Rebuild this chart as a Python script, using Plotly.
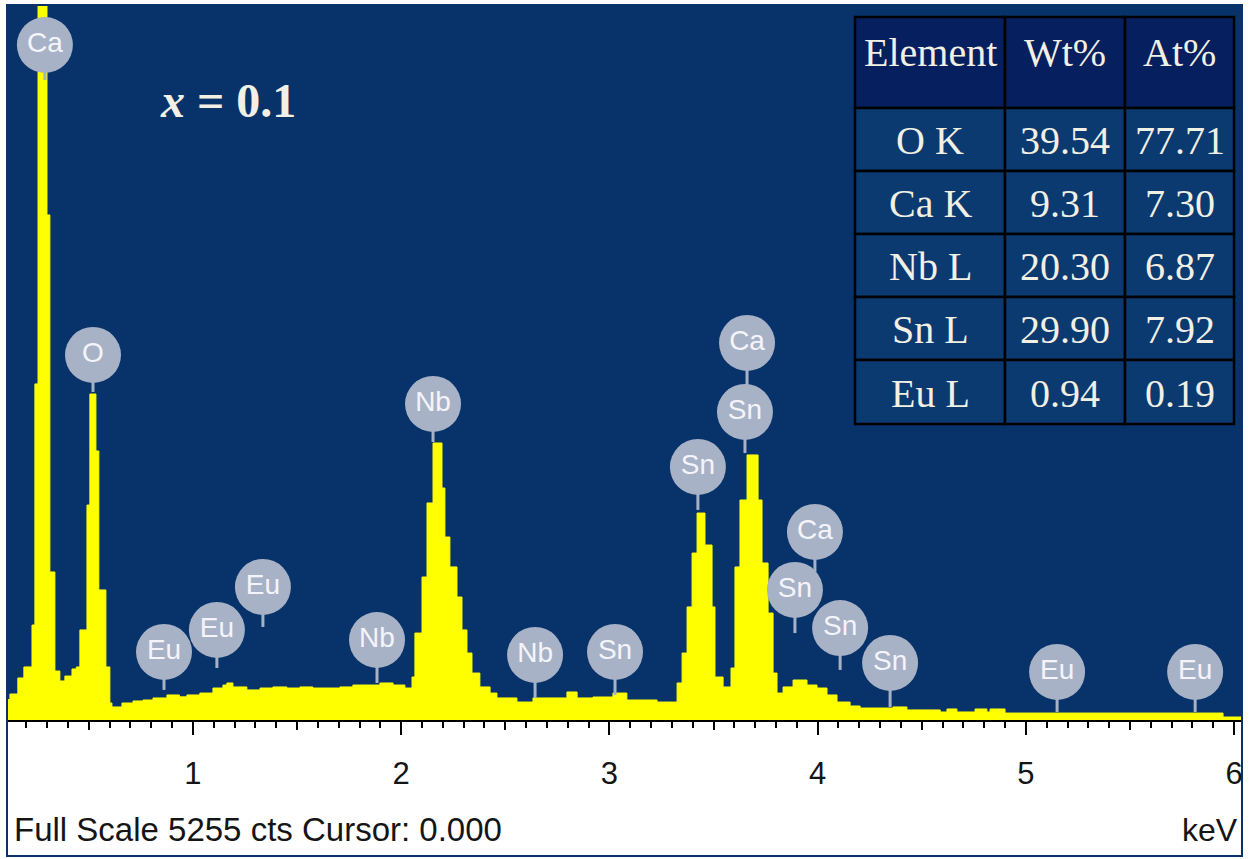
import plotly.graph_objects as go

# ---------------- data ----------------
# EDS spectrum (step histogram): energy (keV) at bin start, counts
energy_kev = [0.107, 0.121, 0.159, 0.188, 0.227, 0.241, 0.256, 0.299, 0.313, 0.337,
              0.361, 0.385, 0.419, 0.440, 0.457, 0.491, 0.505, 0.534, 0.548, 0.582,
              0.601, 0.611, 0.659, 0.712, 0.760, 0.808, 0.875, 0.935, 0.971, 1.033,
              1.096, 1.144, 1.163, 1.192, 1.259, 1.322, 1.384, 1.451, 1.514, 1.576,
              1.644, 1.706, 1.768, 1.836, 1.898, 1.961, 2.018, 2.052, 2.066, 2.100,
              2.124, 2.153, 2.196, 2.210, 2.234, 2.268, 2.292, 2.316, 2.340, 2.378,
              2.427, 2.460, 2.556, 2.633, 2.796, 2.845, 2.921, 3.017, 3.084, 3.229,
              3.325, 3.349, 3.373, 3.397, 3.421, 3.459, 3.493, 3.507, 3.546, 3.584,
              3.603, 3.627, 3.661, 3.714, 3.733, 3.762, 3.786, 3.805, 3.834, 3.882,
              3.949, 3.997, 4.045, 4.093, 4.156, 4.204, 4.362, 4.429, 4.589, 4.621,
              4.669, 4.756, 4.813, 4.828, 4.900, 5.947, 6.038]
counts = [150, 191, 309, 390, 698, 2470, 5600, 3712, 1088, 360,
          287, 323, 375, 390, 662, 1580, 2396, 1977, 956, 390,
          125, 96, 125, 140, 147, 162, 184, 170, 184, 198,
          235, 257, 272, 243, 221, 235, 243, 235, 243, 235,
          235, 243, 257, 257, 272, 257, 235, 316, 639, 1051,
          1595, 2036, 1705, 1345, 1125, 904, 662, 492, 345, 243,
          198, 162, 132, 162, 206, 162, 169, 198, 147, 132,
          272, 492, 831, 1227, 1521, 1286, 831, 316, 243, 382,
          1125, 1617, 1948, 1617, 1154, 786, 345, 198, 243, 294,
          257, 235, 184, 132, 103, 88, 96, 74, 59, 81,
          59, 81, 59, 81, 51, 22, 22]

full_scale = 5255

# peak identification labels
label_names = ["Ca", "O", "Eu", "Eu", "Eu", "Nb", "Nb", "Nb", "Sn", "Sn",
               "Sn", "Ca", "Ca", "Sn", "Sn", "Sn", "Eu", "Eu"]
label_kev = [0.289, 0.520, 0.861, 1.115, 1.336, 1.884, 2.153, 2.643, 3.027, 3.425,
             3.651, 3.661, 3.987, 3.891, 4.108, 4.348, 5.150, 5.813]
label_cts = [4961, 2683, 500, 662, 978, 588, 2323, 478, 500, 1860,
             2264, 2771, 1382, 956, 676, 419, 353, 353]
stem_cts = [4704, 2411, 221, 382, 684, 272, 2043, 162, 184, 1544,
            1962, 2264, 1088, 639, 368, 96, 59, 59]

# quantification table
tbl_header = ["Element", "Wt%", "At%"]
tbl_element = ["O K", "Ca K", "Nb L", "Sn L", "Eu L"]
tbl_wt = ["39.54", "9.31", "20.30", "29.90", "0.94"]
tbl_at = ["77.71", "7.30", "6.87", "7.92", "0.19"]

major_ticks = [1, 2, 3, 4, 5, 6]
half_ticks = [0.5, 1.5, 2.5, 3.5, 4.5, 5.5]

# ---------------- styles / layout constants ----------------
NAVY = "#07336a"
YELLOW = "#ffff00"
BADGE = "#a8b2c6"
TXT = "#f2efe4"
HEAD_FILL = "#061f5e"
CELL_FILL = "#0a3a70"

W, H = 1249, 859
ML, MR, MT, MB = 7, 7, 5, 139
PW, PH = W - ML - MR, H - MT - MB


def px(xp):
    return (xp - ML) / PW


def py(yp):
    return (H - MB - yp) / PH


fig = go.Figure()

fig.add_trace(go.Scatter(
    x=energy_kev, y=counts, mode="lines", line_shape="hv",
    line=dict(color=YELLOW, width=1), fill="tozeroy", fillcolor=YELLOW,
    hoverinfo="skip", showlegend=False))

# stems
sx, sy = [], []
for e, c0, c1 in zip(label_kev, label_cts, stem_cts):
    sx += [e, e, None]
    sy += [c0, c1, None]
fig.add_trace(go.Scatter(x=sx, y=sy, mode="lines",
                         line=dict(color=BADGE, width=3),
                         hoverinfo="skip", showlegend=False))

fig.add_trace(go.Scatter(
    x=label_kev, y=label_cts, mode="markers+text", text=label_names,
    textposition="middle center",
    marker=dict(size=56, color=BADGE, line=dict(width=0)),
    textfont=dict(family="Liberation Sans", size=28, color="#f4f4fa"),
    hoverinfo="skip", showlegend=False, cliponaxis=False))

# helper trace for half-keV ticks axis
fig.add_trace(go.Scatter(x=half_ticks, y=[None] * len(half_ticks), xaxis="x2",
                         mode="markers", hoverinfo="skip", showlegend=False))

# ---------------- table (cells as shapes + text) ----------------
col_edges = [855, 1005, 1125, 1234]
row_edges = [17, 108, 171, 234, 297, 360, 424]
columns = [[tbl_header[0]] + tbl_element,
           [tbl_header[1]] + tbl_wt,
           [tbl_header[2]] + tbl_at]
for ci, col in enumerate(columns):
    x0, x1 = col_edges[ci], col_edges[ci + 1]
    for ri, txt in enumerate(col):
        y0, y1 = row_edges[ri], row_edges[ri + 1]
        fig.add_shape(type="rect", xref="paper", yref="paper",
                      x0=px(x0), x1=px(x1), y0=py(y1), y1=py(y0),
                      fillcolor=HEAD_FILL if ri == 0 else CELL_FILL,
                      line=dict(color="black", width=2.5), layer="above")
        ty = y0 + 35 if ri == 0 else (y0 + y1) / 2 + 1
        fig.add_annotation(xref="paper", yref="paper",
                           x=px((x0 + x1) / 2), y=py(ty),
                           xanchor="center", yanchor="middle", showarrow=False,
                           text=txt,
                           font=dict(family="Liberation Serif", size=40, color=TXT))

xr = [0.107, 6.038]
fig.update_layout(
    width=W, height=H,
    margin=dict(l=ML, r=MR, t=MT, b=MB),
    paper_bgcolor="white", plot_bgcolor=NAVY,
    showlegend=False,
    xaxis=dict(range=xr, showgrid=False, zeroline=False,
               showline=True, linecolor="black", linewidth=2,
               tickvals=major_ticks, ticktext=[str(t) for t in major_ticks],
               ticks="outside", ticklen=13, tickwidth=2, tickcolor="black",
               ticklabelstandoff=12,
               tickfont=dict(family="Liberation Sans", size=31, color="#151515"),
               minor=dict(dtick=0.1, tick0=0, ticks="outside", ticklen=6,
                          tickwidth=2, tickcolor="black", showgrid=False)),
    xaxis2=dict(range=xr, overlaying="x", anchor="y", side="bottom",
                showgrid=False, zeroline=False, showline=False,
                tickvals=half_ticks, ticks="outside", ticklen=9, tickwidth=2,
                tickcolor="black", showticklabels=False),
    yaxis=dict(range=[0, full_scale], visible=False, fixedrange=True),
)

fig.add_shape(type="rect", xref="paper", yref="paper",
              x0=0, x1=1, y0=py(856), y1=1,
              line=dict(color=NAVY, width=2), layer="above")

fig.add_annotation(xref="paper", yref="paper", x=px(12), y=py(830),
                   xanchor="left", yanchor="middle", showarrow=False,
                   text="Full Scale 5255 cts Cursor: 0.000",
                   font=dict(family="Liberation Sans", size=33, color="#151515"))
fig.add_annotation(xref="paper", yref="paper", x=px(1240), y=py(830),
                   xanchor="right", yanchor="middle", showarrow=False,
                   text="keV",
                   font=dict(family="Liberation Sans", size=32, color="#151515"))
fig.add_annotation(xref="paper", yref="paper", x=px(228), y=py(100),
                   xanchor="center", yanchor="middle", showarrow=False,
                   text="<b><i>x</i> = 0.1</b>",
                   font=dict(family="Liberation Serif", size=48, color=TXT))

fig.write_html("out.html",
               config={"displayModeBar": False},
               post_script="document.body.style.margin='0px';"
                           "document.body.style.overflow='hidden';")
